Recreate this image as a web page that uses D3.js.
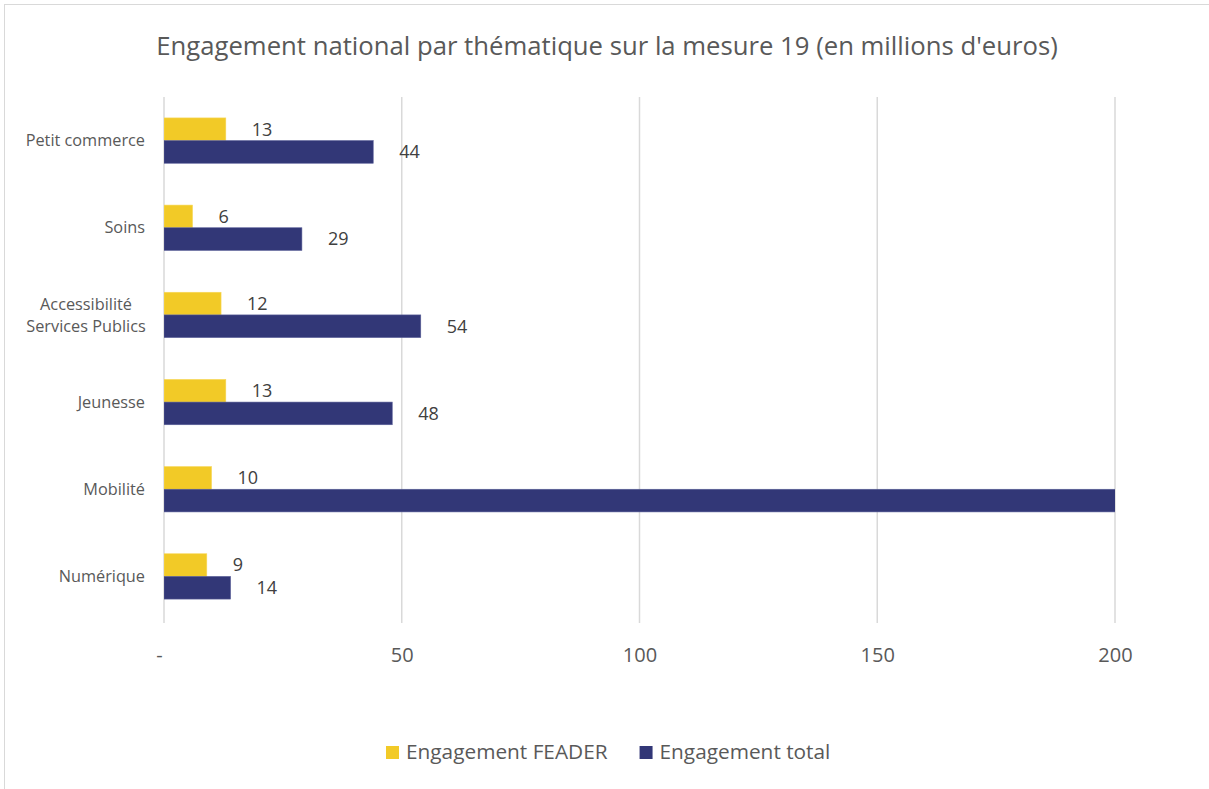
<!DOCTYPE html>
<html>
<head>
<meta charset="utf-8">
<script src="https://cdn.jsdelivr.net/npm/d3@7"></script>
<style>
  html, body { margin: 0; padding: 0; background: #fff; }
  svg { display: block; font-family: "Open Sans", Lato, sans-serif; }
</style>
</head>
<body>
<svg id="chart" width="1209" height="789"></svg>
<script>
// Thematic categories, top to bottom
const categories = ["Petit commerce", "Soins", "Accessibilité\nServices Publics", "Jeunesse", "Mobilité", "Numérique"];
// Engagement FEADER (M€)
const feader = [13, 6, 12, 13, 10, 9];
// Engagement total (M€) — Mobilité runs past the axis maximum
const total = [44, 29, 54, 48, 230, 14];
const xTicks = [0, 50, 100, 150, 200];
const xTickLabels = ["-", "50", "100", "150", "200"];
const seriesNames = ["Engagement FEADER", "Engagement total"];
const colors = ["#F2CA27", "#323777"];

const svg = d3.select("#chart");
const W = 1209, H = 789;
const margin = { left: 164, right: 94, top: 97, bottom: 169 };
const xMax = 200;
const FONT = "'Open Sans', Lato, sans-serif";

// Outer frame
svg.append("rect")
  .attr("x", 4.5).attr("y", 4.5)
  .attr("width", W - 4).attr("height", H - 4)
  .attr("fill", "#fff").attr("stroke", "#d9d9d9").attr("stroke-width", 1);

// Title
svg.append("text")
  .attr("x", 607).attr("y", 55)
  .attr("text-anchor", "middle")
  .attr("font-size", 25.7)
  .attr("fill", "#595959")
  .text("Engagement national par thématique sur la mesure 19 (en millions d'euros)");

const x = d3.scaleLinear().domain([0, xMax]).range([margin.left, W - margin.right]);
const y = d3.scaleBand().domain(d3.range(categories.length))
  .range([margin.top, H - margin.bottom]).paddingInner(0.48).paddingOuter(0.24);
const sub = d3.scaleBand().domain([0, 1]).range([0, y.bandwidth()]);

// Vertical gridlines
svg.append("g").selectAll("line").data(xTicks).join("line")
  .attr("x1", d => x(d)).attr("x2", d => x(d))
  .attr("y1", margin.top).attr("y2", H - margin.bottom + 3)
  .attr("stroke", "#d9d9d9").attr("stroke-width", 1.5);

// X tick labels
const xAxis = d3.axisBottom(x).tickValues(xTicks)
  .tickFormat((d, i) => xTickLabels[i]).tickSize(0).tickPadding(0);
const gx = svg.append("g")
  .attr("transform", `translate(0,${H - margin.bottom + 35})`)
  .call(xAxis);
gx.select(".domain").remove();
gx.selectAll("text")
  .attr("font-size", 20).attr("fill", "#595959")
  .attr("font-family", FONT)
  .attr("dy", "0.35em");
gx.selectAll(".tick").filter(d => d === 0).select("text").attr("dx", -5);

// Category labels
const gy = svg.append("g");
categories.forEach((c, i) => {
  const lines = c.split("\n");
  const cy = y(i) + y.bandwidth() / 2;
  const t = gy.append("text")
    .attr("font-size", 16.3).attr("fill", "#595959");
  if (lines.length === 1) {
    t.attr("x", 145).attr("y", cy).attr("dy", "0.35em")
      .attr("text-anchor", "end").text(c);
  } else {
    t.attr("text-anchor", "middle");
    lines.forEach((ln, k) => {
      t.append("tspan").attr("x", 86)
        .attr("y", cy + (k - (lines.length - 1) / 2) * 22)
        .attr("dy", "0.35em").text(ln);
    });
  }
});

// Bars, clipped to the plot area
svg.append("clipPath").attr("id", "plot-clip")
  .append("rect").attr("x", margin.left).attr("y", 0)
  .attr("width", x(xMax) - margin.left).attr("height", H);

const series = [feader, total];
const bars = svg.append("g").attr("clip-path", "url(#plot-clip)");
series.forEach((vals, s) => {
  bars.selectAll(null).data(vals).join("rect")
    .attr("x", x(0))
    .attr("y", (d, i) => y(i) + sub(s))
    .attr("width", d => x(d) - x(0))
    .attr("height", sub.bandwidth())
    .attr("fill", colors[s])
    .attr("stroke", s === 1 ? "#5a5f98" : "#f7d75a")
    .attr("stroke-width", 0.6);
});

// Value labels (only for bars ending inside the axis range)
const labels = svg.append("g");
series.forEach((vals, s) => {
  labels.selectAll(null).data(vals.map((v, i) => ({ v, i })).filter(d => d.v <= xMax)).join("text")
    .attr("x", d => x(d.v) + 26)
    .attr("y", d => y(d.i) + sub(s) + sub.bandwidth() / 2)
    .attr("dy", "0.35em")
    .attr("font-size", 18).attr("fill", "#404040")
    .text(d => d3.format(".0f")(d.v));
});

// Legend
const legend = svg.append("g").attr("transform", "translate(386,752)");
let lx = 0;
seriesNames.forEach((name, s) => {
  const g = legend.append("g").attr("transform", `translate(${lx},0)`);
  g.append("rect").attr("x", 0).attr("y", -6).attr("width", 13).attr("height", 13)
    .attr("fill", colors[s]);
  const t = g.append("text").attr("x", 20).attr("y", 0).attr("dy", "0.35em")
    .attr("font-size", 20.8).attr("fill", "#595959").text(name);
  lx += 20 + t.node().getComputedTextLength() + 32;
});
</script>
</body>
</html>
